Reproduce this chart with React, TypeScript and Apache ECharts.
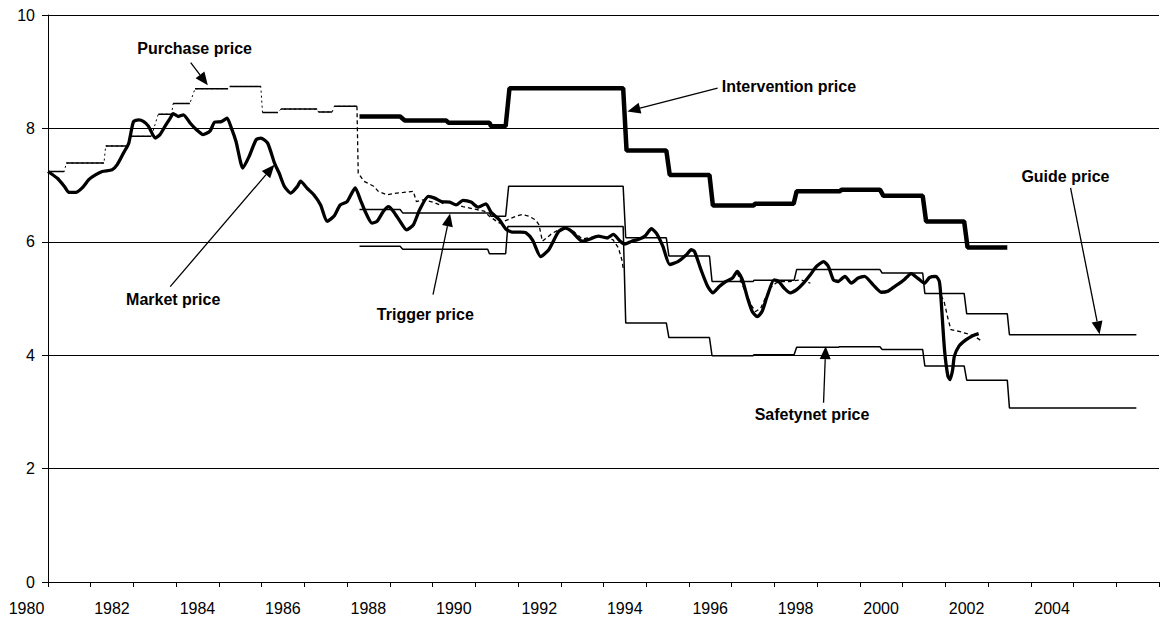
import React, { useEffect, useRef } from "react";
import * as echarts from "echarts";

const FONT = '"Liberation Sans", Arial, Helvetica, sans-serif';

// x-axis tick labels (each centred on its year)
const yearLabels = ["1980", "1982", "1984", "1986", "1988", "1990", "1992", "1994", "1996", "1998", "2000", "2002", "2004"];

// Purchase price, 1980-1987: step levels
const purchaseStepStart = [1980.5, 1980.93, 1981.85, 1982.41, 1983.08, 1983.43, 1983.94, 1984.75, 1985.52, 1985.95, 1986.83, 1987.2];
const purchaseStepEnd = [1980.88, 1981.81, 1982.39, 1982.92, 1983.39, 1983.82, 1984.71, 1985.48, 1985.88, 1986.8, 1987.15, 1987.73];
const purchaseStepValue = [7.24, 7.39, 7.69, 7.86, 8.25, 8.44, 8.7, 8.74, 8.28, 8.34, 8.29, 8.39];

// Purchase price after 1987 (dashed, "-" = gap)
const purchaseLater: (number | string)[][] = [
  [1987.73, 8.39], [1987.76, 7.21], [1987.89, 7.07], [1988.12, 6.98], [1988.23, 6.89], [1988.43, 6.83], [1988.66, 6.86],
  [1988.82, 6.87], [1989.05, 6.89], [1989.12, 6.71], [1989.28, 6.74], [1989.51, 6.7], [1989.67, 6.65], [1989.82, 6.72],
  [1990.21, 6.62], [1990.71, 6.54], [1990.83, 6.45], [1991.06, 6.33], [1991.29, 6.4], [1991.45, 6.45], [1991.6, 6.48],
  [1991.76, 6.45], [1991.92, 6.38], [1991.99, 6.3], [1992.07, 6.01], [1992.3, 6.15], [1992.53, 6.24], [1992.76, 6.21],
  [1993.0, 6.05], [1993.38, 6.1], [1993.61, 6.05], [1993.72, 6.04], [1993.85, 5.89], [1993.93, 5.68], [1993.96, 5.54],
  [1995.0, "-"],
  [1996.63, 5.45], [1996.83, 5.1], [1996.95, 4.89], [1997.06, 4.77], [1997.18, 4.83], [1997.29, 5.01], [1997.41, 5.19],
  [1997.53, 5.27], [1997.64, 5.3], [1997.87, 5.3], [1998.11, 5.33], [1998.34, 5.27],
  [1999.5, "-"],
  [2001.4, 5.05], [2001.47, 4.95], [2001.56, 4.65], [2001.63, 4.45], [2001.82, 4.42], [2002.06, 4.37], [2002.21, 4.32],
  [2002.33, 4.26],
];

// Market price
const marketPrice: number[][] = [
  [1980.5, 7.24], [1980.72, 7.12], [1980.88, 6.98], [1980.99, 6.87], [1981.15, 6.87], [1981.3, 6.95], [1981.46, 7.1],
  [1981.61, 7.18], [1981.77, 7.24], [1982.0, 7.27], [1982.12, 7.36], [1982.27, 7.57], [1982.39, 7.74], [1982.5, 8.12],
  [1982.62, 8.15], [1982.74, 8.12], [1982.85, 8.04], [1983.01, 7.83], [1983.12, 7.89], [1983.24, 8.04], [1983.36, 8.18],
  [1983.43, 8.26], [1983.55, 8.21], [1983.67, 8.24], [1983.82, 8.1], [1983.97, 7.98], [1984.13, 7.89], [1984.29, 7.95],
  [1984.4, 8.11], [1984.56, 8.12], [1984.69, 8.18], [1984.79, 8.01], [1984.9, 7.77], [1985.06, 7.3], [1985.21, 7.51],
  [1985.37, 7.8], [1985.48, 7.83], [1985.64, 7.74], [1985.8, 7.39], [1985.91, 7.21], [1986.03, 6.98], [1986.18, 6.86],
  [1986.34, 6.98], [1986.41, 7.07], [1986.57, 6.94], [1986.72, 6.83], [1986.88, 6.65], [1987.03, 6.36], [1987.19, 6.45],
  [1987.34, 6.65], [1987.5, 6.71], [1987.61, 6.86], [1987.69, 6.95], [1987.81, 6.74], [1987.92, 6.54], [1988.08, 6.33],
  [1988.2, 6.36], [1988.35, 6.54], [1988.47, 6.62], [1988.58, 6.54], [1988.74, 6.36], [1988.89, 6.21], [1989.05, 6.3],
  [1989.2, 6.57], [1989.4, 6.8], [1989.55, 6.77], [1989.71, 6.71], [1989.9, 6.7], [1990.05, 6.65], [1990.21, 6.73],
  [1990.4, 6.7], [1990.56, 6.61], [1990.75, 6.67], [1990.87, 6.52], [1991.06, 6.39], [1991.22, 6.22], [1991.37, 6.17],
  [1991.56, 6.17], [1991.68, 6.16], [1991.84, 6.03], [1992.03, 5.74], [1992.22, 5.86], [1992.45, 6.18], [1992.61, 6.24],
  [1992.76, 6.18], [1993.0, 6.01], [1993.15, 6.04], [1993.38, 6.1], [1993.58, 6.07], [1993.73, 6.13], [1993.89, 6.01],
  [1994.0, 5.96], [1994.16, 6.01], [1994.31, 6.04], [1994.47, 6.1], [1994.62, 6.23], [1994.74, 6.15], [1994.89, 5.92],
  [1995.05, 5.6], [1995.24, 5.65], [1995.44, 5.77], [1995.55, 5.86], [1995.63, 5.83], [1995.78, 5.51], [1995.94, 5.21],
  [1996.06, 5.1], [1996.21, 5.21], [1996.36, 5.3], [1996.52, 5.36], [1996.63, 5.48], [1996.75, 5.33], [1996.87, 5.01],
  [1996.98, 4.77], [1997.1, 4.68], [1997.21, 4.77], [1997.33, 5.04], [1997.49, 5.33], [1997.6, 5.3], [1997.72, 5.19],
  [1997.87, 5.1], [1998.03, 5.16], [1998.18, 5.27], [1998.34, 5.42], [1998.49, 5.57], [1998.65, 5.65], [1998.76, 5.57],
  [1998.88, 5.33], [1998.99, 5.3], [1999.15, 5.39], [1999.3, 5.27], [1999.46, 5.36], [1999.61, 5.39], [1999.81, 5.24],
  [2000.0, 5.11], [2000.16, 5.13], [2000.31, 5.21], [2000.43, 5.27], [2000.55, 5.34], [2000.7, 5.44], [2000.85, 5.36],
  [2001.01, 5.27], [2001.13, 5.37], [2001.28, 5.39], [2001.36, 5.3], [2001.4, 4.98], [2001.48, 4.1], [2001.56, 3.63],
  [2001.61, 3.57], [2001.67, 3.74], [2001.71, 3.98], [2001.82, 4.16], [2001.98, 4.27], [2002.13, 4.34], [2002.28, 4.38],
];

// Intervention price
const interventionPrice: number[][] = [
  [1987.79, 8.21], [1988.74, 8.21], [1988.85, 8.14], [1989.82, 8.14], [1989.87, 8.1], [1990.83, 8.1], [1990.87, 8.04],
  [1991.21, 8.04], [1991.3, 8.71], [1993.96, 8.71], [1994.04, 7.61], [1994.97, 7.61], [1995.05, 7.18], [1995.98, 7.18],
  [1996.06, 6.64], [1997.02, 6.64], [1997.04, 6.67], [1997.95, 6.67], [1998.02, 6.89], [1999.04, 6.89], [1999.06, 6.92],
  [1999.97, 6.92], [2000.05, 6.81], [2000.97, 6.81], [2001.05, 6.36], [2001.94, 6.36], [2002.02, 5.9], [2002.95, 5.9],
];

// Trigger price (until 1994)
const triggerPrice: number[][] = [
  [1987.79, 6.57], [1988.74, 6.57], [1988.8, 6.51], [1990.83, 6.51], [1990.87, 6.45], [1991.21, 6.45], [1991.28, 6.98],
  [1993.96, 6.98], [1994.02, 6.07],
];

// Guide price (from 1994)
const guidePrice: number[][] = [
  [1994.02, 6.07], [1994.97, 6.07], [1995.03, 5.75], [1995.98, 5.75], [1996.04, 5.3], [1997.0, 5.3], [1997.02, 5.32],
  [1997.96, 5.32], [1998.02, 5.51], [1999.97, 5.51], [2000.02, 5.45], [2000.97, 5.45], [2001.02, 5.09], [2001.94, 5.09],
  [2002.0, 4.73], [2002.95, 4.73], [2003.0, 4.36], [2005.97, 4.36],
];

// Safetynet price
const safetynetPrice: number[][] = [
  [1987.79, 5.92], [1988.74, 5.92], [1988.8, 5.87], [1990.79, 5.87], [1990.83, 5.79], [1991.21, 5.79], [1991.26, 6.27],
  [1993.96, 6.27], [1994.02, 4.57], [1994.97, 4.57], [1995.03, 4.31], [1995.98, 4.31], [1996.04, 3.99], [1997.0, 3.99],
  [1997.02, 4.01], [1997.96, 4.01], [1998.02, 4.14], [1999.0, 4.14], [1999.02, 4.15], [1999.97, 4.15], [2000.02, 4.1],
  [2000.97, 4.1], [2001.02, 3.81], [2001.94, 3.81], [2002.0, 3.56], [2002.95, 3.56], [2003.0, 3.07], [2005.97, 3.07],
];

// Annotations: label text, label centre, arrow start, arrow tip (data coordinates)
const annotationText = ["Purchase price", "Market price", "Trigger price", "Intervention price", "Guide price", "Safetynet price"];
const annotationLabelAt = [[1983.93, 9.41], [1983.43, 4.98], [1989.33, 4.71], [1997.84, 8.74], [2004.31, 7.15], [1998.38, 2.95]];
const annotationArrowFrom = [[1983.84, 9.16], [1983.36, 5.21], [1989.51, 5.07], [1996.17, 8.71], [2004.43, 6.95], [1998.65, 3.16]];
const annotationArrowTo = [[1984.24, 8.76], [1985.8, 7.36], [1989.91, 6.5], [1994.06, 8.3], [2005.11, 4.37], [1998.7, 4.16]];

function buildPurchaseSolid() {
  const out: (number | string)[][] = [];
  for (let i = 0; i < purchaseStepValue.length; i++) {
    out.push([purchaseStepStart[i], purchaseStepValue[i]]);
    out.push([purchaseStepEnd[i], purchaseStepValue[i]]);
    if (i < purchaseStepValue.length - 1) out.push([(purchaseStepEnd[i] + purchaseStepStart[i + 1]) / 2, "-"]);
  }
  return out;
}
function buildPurchaseConnectors() {
  const out: number[][] = [];
  for (let i = 0; i < purchaseStepValue.length; i++) {
    out.push([purchaseStepStart[i], purchaseStepValue[i]]);
    out.push([purchaseStepEnd[i], purchaseStepValue[i]]);
  }
  return out;
}

export default function App() {
  const ref = useRef<HTMLDivElement>(null);
  useEffect(() => {
    if (!ref.current) return;
    const chart = echarts.init(ref.current, null, { renderer: "svg" });
    const thin = (name: string, data: any[], width = 1.4, type: any = "solid", extra: any = {}) => ({
      name,
      type: "line",
      data,
      showSymbol: false,
      symbol: "none",
      connectNulls: false,
      silent: true,
      lineStyle: { color: "#000", width, type },
      ...extra,
    });
    chart.setOption({
      animation: false,
      backgroundColor: "#fff",
      textStyle: { fontFamily: FONT },
      grid: { left: 48, right: -5, top: 15, bottom: 43, containLabel: false },
      xAxis: {
        type: "value",
        min: 1980.5,
        max: 2006.5,
        interval: 1,
        axisLine: { show: true, lineStyle: { color: "#000", width: 1 } },
        axisTick: { show: true, inside: false, length: 5, lineStyle: { color: "#000", width: 1 } },
        splitLine: { show: false },
        axisLabel: {
          color: "#000",
          fontSize: 16,
          fontFamily: FONT,
          margin: 18,
          align: "center",
          padding: [0, 43, 0, 0],
          formatter: (v: number) => {
            const y = v - 0.5;
            if (Math.abs(y - Math.round(y)) > 1e-6) return "";
            const s = String(Math.round(y));
            return yearLabels.includes(s) ? s : "";
          },
        },
      },
      yAxis: {
        type: "value",
        min: 0,
        max: 10,
        interval: 2,
        axisLine: { show: true, lineStyle: { color: "#000", width: 1 } },
        axisTick: { show: true, inside: false, length: 6, lineStyle: { color: "#000", width: 1 } },
        splitLine: { show: true, lineStyle: { color: "#000", width: 1 } },
        axisLabel: { color: "#000", fontSize: 16, fontFamily: FONT, margin: 13 },
      },
      series: [
        thin("Purchase price (steps)", buildPurchaseSolid(), 1.5),
        thin("Purchase price (step changes)", buildPurchaseConnectors(), 1, [2, 3]),
        thin("Purchase price", purchaseLater, 1.3, [4, 3]),
        thin("Safetynet price", safetynetPrice, 1.5),
        thin("Trigger price", triggerPrice, 1.5),
        thin("Guide price", guidePrice, 1.5),
        thin("Market price", marketPrice, 3.3, "solid", { smooth: 0.2, z: 3 }),
        thin("Intervention price", interventionPrice, 4.5, "solid", { z: 4 }),
      ],
    });

    const toPx = (p: number[]) => chart.convertToPixel({ xAxisIndex: 0, yAxisIndex: 0 }, p) as number[];
    const graphics: any[] = [];
    for (let i = 0; i < annotationText.length; i++) {
      const c = toPx(annotationLabelAt[i]);
      const s = toPx(annotationArrowFrom[i]);
      const t = toPx(annotationArrowTo[i]);
      const dx = t[0] - s[0];
      const dy = t[1] - s[1];
      const len = Math.sqrt(dx * dx + dy * dy);
      const ux = dx / len;
      const uy = dy / len;
      const L = 13;
      const W = 5.5;
      const bx = t[0] - ux * L;
      const by = t[1] - uy * L;
      const nx = -uy;
      const ny = ux;
      graphics.push({
        type: "text",
        x: c[0],
        y: c[1],
        silent: true,
        style: {
          text: annotationText[i],
          fill: "#000",
          font: `bold 16px ${FONT}`,
          textAlign: "center",
          textVerticalAlign: "middle",
          align: "center",
          verticalAlign: "middle",
        },
      });
      graphics.push({
        type: "line",
        silent: true,
        shape: { x1: s[0], y1: s[1], x2: bx, y2: by },
        style: { stroke: "#000", lineWidth: 1.3 },
      });
      graphics.push({
        type: "polygon",
        silent: true,
        shape: { points: [[t[0], t[1]], [bx + nx * W, by + ny * W], [bx - nx * W, by - ny * W]] },
        style: { fill: "#000" },
      });
    }
    chart.setOption({ graphic: graphics });
    return () => chart.dispose();
  }, []);
  return (
    <div
      ref={ref}
      style={{ position: "absolute", left: 0, top: 0, width: 1162, height: 625, background: "#fff" }}
    />
  );
}
